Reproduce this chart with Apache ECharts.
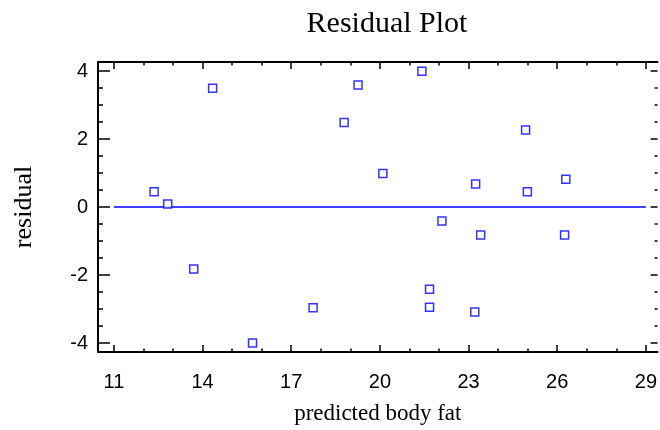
<!DOCTYPE html>
<html>
<head>
<meta charset="utf-8">
<script src="https://cdn.jsdelivr.net/npm/echarts@6/dist/echarts.min.js"></script>
<style>html,body{margin:0;padding:0;background:#fff;}#c{width:660px;height:430px;}</style>
</head>
<body>
<div id="c"></div>
<script>
const predicted = [12.36, 12.82, 14.34, 18.79, 19.26, 21.42, 24.93, 20.10, 23.24, 24.99, 26.29, 22.10, 23.41, 26.25, 13.70, 15.69, 17.74, 21.68, 21.68, 23.21];
const residual  = [0.45, 0.09, 3.50, 2.49, 3.59, 4.00, 2.27, 0.99, 0.68, 0.45, 0.82, -0.41, -0.82, -0.82, -1.82, -4.00, -2.96, -2.42, -2.95, -3.09];
const xMajor = [11, 14, 17, 20, 23, 26, 29];
const xMinor = [12, 13, 15, 16, 18, 19, 21, 22, 24, 25, 27, 28];
const yMajor = [-4, -2, 0, 2, 4];
const yMinor = [-3.5, -3, -2.5, -1.5, -1, -0.5, 0.5, 1, 1.5, 2.5, 3, 3.5];
const zeroLine = [[11, 0], [29, 0]];

const XMIN = 10.461, XMAX = 29.396, YMIN = -4.265, YMAX = 4.27;
const serif = 'Liberation Serif';
const sans = 'Liberation Sans';

function xAx(pos, ticks, len, opts) {
  return Object.assign({
    type: 'value', position: pos, min: XMIN, max: XMAX,
    axisLine: { show: false, onZero: false },
    axisTick: { show: true, inside: true, length: len, customValues: ticks, lineStyle: { color: '#000', width: 1.5 } },
    axisLabel: { show: false },
    splitLine: { show: false }
  }, opts || {});
}
function yAx(pos, ticks, len, opts) {
  return Object.assign({
    type: 'value', position: pos, min: YMIN, max: YMAX,
    axisLine: { show: false, onZero: false },
    axisTick: { show: true, inside: true, length: len, customValues: ticks, lineStyle: { color: '#000', width: 1.5 } },
    axisLabel: { show: false },
    splitLine: { show: false }
  }, opts || {});
}
const frameLine = { show: true, onZero: false, lineStyle: { color: '#000', width: 2 } };

const chart = echarts.init(document.getElementById('c'));
chart.setOption({
  animation: false,
  backgroundColor: '#fff',
  title: {
    text: 'Residual Plot', left: 382, top: 4, textAlign: 'center',
    textStyle: { fontFamily: serif, fontSize: 30, fontWeight: 'normal', color: '#000' }
  },
  grid: { left: 98, right: 0, top: 62, bottom: 76 },
  xAxis: [
    xAx('bottom', xMajor, 7, {
      axisLine: frameLine,
      axisLabel: { show: true, customValues: xMajor, fontFamily: sans, fontSize: 20, color: '#000', margin: 20 },
      name: 'predicted body fat', nameLocation: 'middle', nameGap: 50,
      nameTextStyle: { fontFamily: serif, fontSize: 23, color: '#000' }
    }),
    xAx('bottom', xMinor, 3.5),
    xAx('top', xMajor, 7, { axisLine: frameLine }),
    xAx('top', xMinor, 3.5)
  ],
  yAxis: [
    yAx('left', yMajor, 12, {
      axisLine: frameLine,
      axisLabel: { show: true, customValues: yMajor, fontFamily: sans, fontSize: 20, color: '#000', margin: 10 },
      name: 'residual', nameLocation: 'middle', nameGap: 61,
      nameTextStyle: { fontFamily: serif, fontSize: 26, color: '#000' }
    }),
    yAx('left', yMinor, 5),
    yAx('right', yMajor, 7),
    yAx('right', yMinor, 3)
  ],
  series: [
    {
      type: 'line', data: zeroLine, xAxisIndex: 0, yAxisIndex: 0,
      symbol: 'none', lineStyle: { color: '#0000ff', width: 1.5 }, z: 1
    },
    {
      type: 'scatter', xAxisIndex: 0, yAxisIndex: 0,
      data: predicted.map((p, i) => [p, residual[i]]),
      symbol: 'rect', symbolSize: 8,
      itemStyle: { color: '#fff', borderColor: '#0000ff', borderWidth: 1.5 }, z: 3
    }
  ]
});
</script>
</body>
</html>
